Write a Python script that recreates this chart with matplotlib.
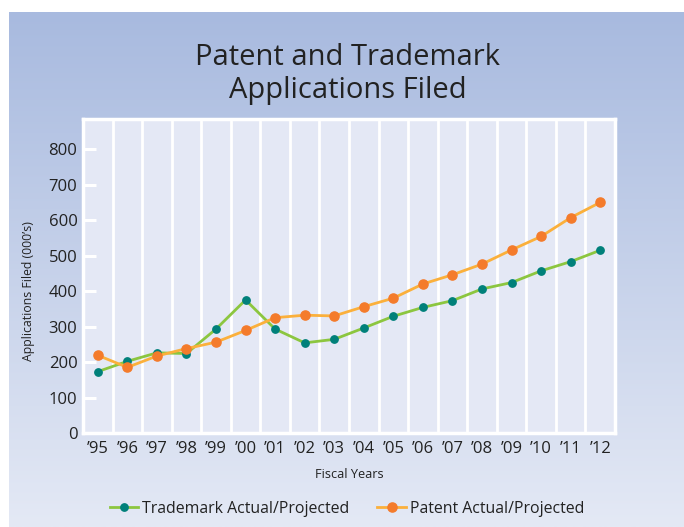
import matplotlib
matplotlib.use("Agg")
import matplotlib.pyplot as plt
import numpy as np
from matplotlib.lines import Line2D

years = ["\u201995", "\u201996", "\u201997", "\u201998", "\u201999", "\u201900", "\u201901", "\u201902",
         "\u201903", "\u201904", "\u201905", "\u201906", "\u201907", "\u201908", "\u201909", "\u201910",
         "\u201911", "\u201912"]
trademark = [173, 202, 226, 224, 293, 375, 293, 254, 264, 296, 329, 354, 373, 406, 424, 457, 483, 515]
patent = [219, 185, 217, 238, 256, 289, 325, 332, 330, 356, 380, 420, 446, 476, 516, 554, 607, 650]
yticks = [0, 100, 200, 300, 400, 500, 600, 700, 800]
title_lines = ['Patent and Trademark', 'Applications Filed']

plt.rcParams['font.family'] = ['Open Sans', 'DejaVu Sans']

W, H = 684, 527
fig = plt.figure(figsize=(W / 100, H / 100), dpi=100)
fig.patch.set_facecolor('white')

# gradient background
bg = fig.add_axes([9 / W, 0, 1 - 9 / W, (H - 12) / H], zorder=0)
top = np.array([0xa8, 0xba, 0xdf]) / 255
bot = np.array([0xe4, 0xe9, 0xf5]) / 255
t = np.linspace(0, 1, 256)[:, None]
grad = top[None, :] * (1 - t) + bot[None, :] * t
bg.imshow(grad[:, None, :], aspect='auto', extent=[0, 1, 0, 1])
bg.set_axis_off()

x0, x1 = 83, 615
y0, y1 = 119, 433
ax = fig.add_axes([x0 / W, 1 - y1 / H, (x1 - x0) / W, (y1 - y0) / H], zorder=1)
ax.set_facecolor('#e4e8f5')
x = np.arange(len(years))
ax.plot(x, trademark, color='#8cc63f', lw=2.0, zorder=3)
ax.plot(x, trademark, 'o', color='#00807a', ms=5.3, zorder=4)
ax.plot(x, patent, color='#fbb03b', lw=2.0, zorder=3)
ax.plot(x, patent, 'o', color='#f47b2b', ms=6.6, zorder=4)

ax.set_xlim(-0.5, len(years) - 0.5)
ax.set_ylim(0, 885)
for k in range(len(years) - 1):
    ax.axvline(k + 0.5, color='white', lw=2.0, zorder=1)
ax.set_xticks(x)
ax.set_xticklabels(years, fontsize=12, color='#222222')
ax.set_yticks(yticks)
ax.set_yticklabels([str(v) for v in yticks], fontsize=12, color='#222222')
ax.tick_params(axis='x', length=0, pad=6)
ax.tick_params(axis='y', direction='in', length=9, width=2.2, color='white', pad=4)
for s in ax.spines.values():
    s.set_color('white')
    s.set_linewidth(2.5)

ax.set_xlabel('Fiscal Years', fontsize=9.2, color='#222222', labelpad=8)
ax.set_ylabel("Applications Filed (000\u2019s)", fontsize=8.8, color='#222222')
ax.yaxis.set_label_coords(-48 / (x1 - x0), 400 / 885)

for line, base in zip(title_lines, [65, 98.3]):
    fig.text(347.5 / W, 1 - base / H, line, ha='center', va='baseline',
             fontsize=21, color='#222222')

handles = [Line2D([], [], color='#8cc63f', lw=2.0, marker='o', markerfacecolor='#00807a',
                  markeredgecolor='#00807a', ms=5.3),
           Line2D([], [], color='#fbb03b', lw=2.0, marker='o', markerfacecolor='#f47b2b',
                  markeredgecolor='#f47b2b', ms=6.6)]
fig.legend(handles, ['Trademark Actual/Projected', 'Patent Actual/Projected'], loc='center',
           bbox_to_anchor=(347 / W, 1 - 509 / H), ncol=2, frameon=False, fontsize=11.4,
           handlelength=1.8, columnspacing=1.75, handletextpad=0.25, labelcolor='#222222')

fig.savefig('out.png', dpi=100)
